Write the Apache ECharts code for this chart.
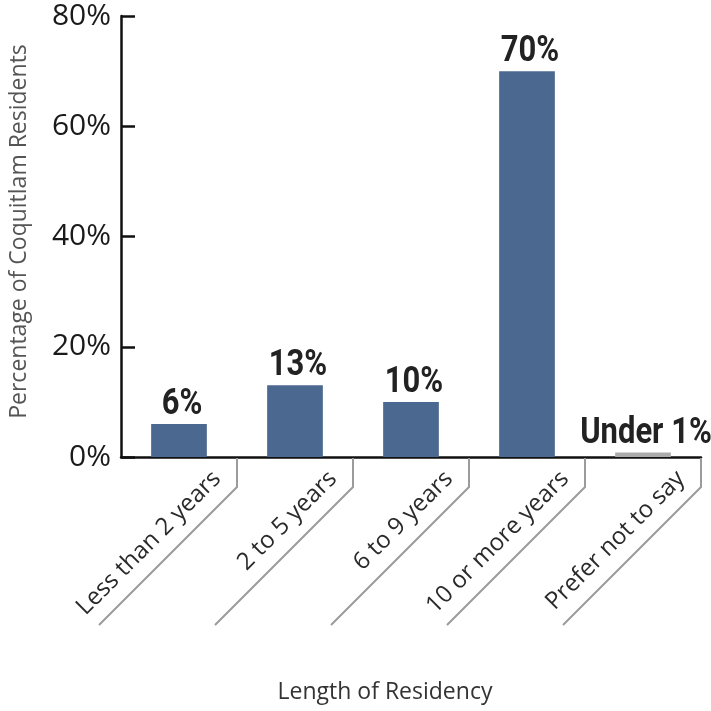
<!DOCTYPE html>
<html>
<head>
<meta charset="utf-8">
<script src="https://cdn.jsdelivr.net/npm/echarts@6/dist/echarts.min.js"></script>
<style>
  html, body { margin: 0; padding: 0; background: #fff; }
  #chart { width: 711px; height: 711px; }
</style>
</head>
<body>
<div id="chart"></div>
<script>
// Length of residency of Coquitlam residents
const categories = ['Less than 2 years', '2 to 5 years', '6 to 9 years', '10 or more years', 'Prefer not to say'];
const shares = [6, 13, 10, 70, 0.8];
const valueLabels = ['6%', '13%', '10%', '70%', 'Under 1%'];
const yTicks = [0, 20, 40, 60, 80];

const BAR_BLUE = '#4a6890';
const BAR_GREY = '#ababab';
const LEADER_GREY = '#9b9b9b';
const BOLD_FONT = "Roboto, 'Noto Sans', sans-serif";
const REG_FONT = "'Open Sans', 'Noto Sans', sans-serif";

const chart = echarts.init(document.getElementById('chart'), null, { renderer: 'canvas' });

const barData = shares.map((v, i) => ({
  value: v,
  itemStyle: { color: i === shares.length - 1 ? BAR_GREY : BAR_BLUE }
}));

// Per category: leader line (down from the band edge, then diagonally),
// the slanted category name, and the condensed bold value above the bar.
function renderCategory(params, api) {
  const idx = api.value(0);
  const val = api.value(1);
  const base = api.coord([idx, 0]);
  const top = api.coord([idx, val]);
  const band = api.size([1, 0])[0];
  const bx = base[0] + band / 2;
  const y0 = base[1];
  const drop = 30;
  const run = 138;
  return {
    type: 'group',
    children: [
      {
        type: 'polyline',
        shape: { points: [[bx, y0 + 1], [bx, y0 + drop], [bx - run, y0 + drop + run]] },
        style: { stroke: LEADER_GREY, lineWidth: 2, fill: null }
      },
      {
        type: 'text',
        x: bx - 20,
        y: y0 + 18,
        rotation: Math.PI / 4,
        style: {
          text: categories[idx],
          fontSize: 24,
          fontFamily: REG_FONT,
          fill: '#2a2a2a',
          align: 'right',
          verticalAlign: 'middle'
        }
      },
      {
        type: 'text',
        x: top[0] + 3,
        y: top[1] - 1,
        scaleX: 0.86,
        style: {
          text: valueLabels[idx],
          fontSize: 36,
          fontWeight: 'bold',
          fontFamily: BOLD_FONT,
          fill: '#222',
          align: 'center',
          verticalAlign: 'bottom'
        }
      }
    ]
  };
}

chart.setOption({
  animation: false,
  backgroundColor: '#ffffff',
  grid: { left: 121, right: 10, top: 16, bottom: 254, containLabel: false },
  xAxis: {
    type: 'category',
    data: categories,
    name: 'Length of Residency',
    nameLocation: 'middle',
    nameGap: 224,
    nameTextStyle: { fontSize: 23, color: '#333', fontFamily: REG_FONT, padding: [0, 52, 0, 0] },
    axisLine: { lineStyle: { color: '#111', width: 2.5 } },
    axisTick: { show: false },
    axisLabel: { show: false },
    splitLine: { show: false }
  },
  yAxis: {
    type: 'value',
    min: yTicks[0],
    max: yTicks[yTicks.length - 1],
    interval: yTicks[1] - yTicks[0],
    name: 'Percentage of Coquitlam Residents',
    nameLocation: 'middle',
    nameRotate: 90,
    nameGap: 90,
    nameTextStyle: { fontSize: 23, color: '#555', fontFamily: REG_FONT, padding: [0, 0, 0, 10] },
    axisLine: { show: true, lineStyle: { color: '#111', width: 2.5 } },
    axisTick: { show: true, inside: true, length: 14, lineStyle: { color: '#111', width: 2.5 } },
    axisLabel: {
      formatter: '{value}%',
      fontSize: 30,
      color: '#1a1a1a',
      fontFamily: REG_FONT,
      margin: 10
    },
    splitLine: { show: false }
  },
  series: [
    {
      type: 'bar',
      data: barData,
      barWidth: '48%',
      z: 3
    },
    {
      type: 'custom',
      data: shares.map((v, i) => [i, v]),
      renderItem: renderCategory,
      silent: true,
      z: 4
    }
  ]
});
</script>
</body>
</html>
